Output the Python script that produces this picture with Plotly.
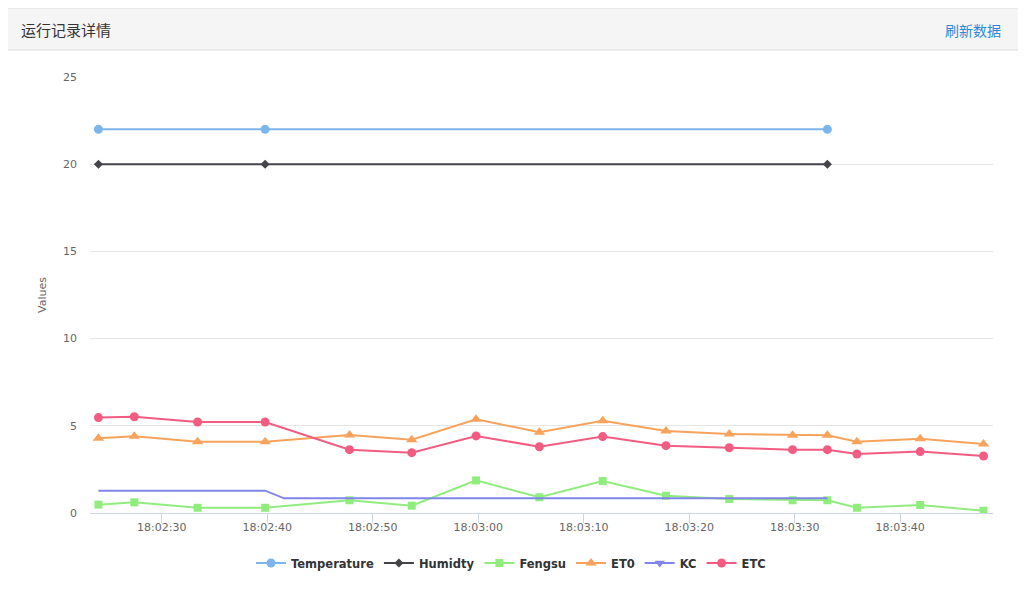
import plotly.graph_objects as go

day = "2019-05-20 "

times = ["18:02:24", "18:02:27.4", "18:02:33.4", "18:02:39.8", "18:02:47.8", "18:02:53.7",
         "18:02:59.8", "18:03:05.8", "18:03:11.8", "18:03:17.8", "18:03:23.8", "18:03:29.8",
         "18:03:33.1", "18:03:35.9", "18:03:41.9", "18:03:47.9"]

temp_times = ["18:02:24", "18:02:39.8", "18:03:33.1"]
temperature = [22, 22, 22]
humidity = [20, 20, 20]

fengsu = [0.48, 0.61, 0.30, 0.30, 0.73, 0.42, 1.87, 0.90, 1.83, 0.99, 0.80, 0.73, 0.73, 0.30, 0.46, 0.13]
et0 = [4.28, 4.40, 4.09, 4.09, 4.47, 4.20, 5.37, 4.63, 5.29, 4.70, 4.53, 4.46, 4.46, 4.09, 4.26, 3.96]
etc = [5.47, 5.52, 5.22, 5.22, 3.63, 3.46, 4.42, 3.80, 4.38, 3.86, 3.74, 3.63, 3.63, 3.38, 3.52, 3.27]

kc_times = ["18:02:24", "18:02:39.8", "18:02:41.6", "18:03:33.1"]
kc = [1.28, 1.28, 0.84, 0.84]

x_all = [day + t for t in times]
x_temp = [day + t for t in temp_times]
x_kc = [day + t for t in kc_times]

# page body has an 8px margin, so figure coords = screen coords - 8
OFF = 8
W, H = 1018, 594
L, R, T, B = 90 - OFF, 993 - OFF, 77 - OFF, 513 - OFF


def px(x):
    return (x - OFF - L) / (R - L)


def py(y):
    return (B - (y - OFF)) / (B - T)


fig = go.Figure()

fig.add_trace(go.Scatter(x=x_temp, y=temperature, name="Temperature", mode="lines+markers",
                         line=dict(color="#7cb5ec", width=2),
                         marker=dict(symbol="circle", size=9, color="#7cb5ec")))
fig.add_trace(go.Scatter(x=x_temp, y=humidity, name="Humidty", mode="lines+markers",
                         line=dict(color="#434348", width=2),
                         marker=dict(symbol="diamond", size=7, color="#434348")))
fig.add_trace(go.Scatter(x=x_all, y=fengsu, name="Fengsu", mode="lines+markers",
                         line=dict(color="#90ed7d", width=2),
                         marker=dict(symbol="square", size=8, color="#90ed7d")))
fig.add_trace(go.Scatter(x=x_all, y=et0, name="ET0", mode="lines+markers",
                         line=dict(color="#f7a35c", width=2),
                         marker=dict(symbol="triangle-up", size=10, color="#f7a35c")))
# KC: legend entry shows marker, plotted line has none
fig.add_trace(go.Scatter(x=[None], y=[None], name="KC", mode="lines+markers", legendgroup="kc",
                         line=dict(color="#8085e9", width=2),
                         marker=dict(symbol="triangle-down", size=9, color="#8085e9")))
fig.add_trace(go.Scatter(x=x_all, y=etc, name="ETC", mode="lines+markers",
                         line=dict(color="#f15c80", width=2),
                         marker=dict(symbol="circle", size=9, color="#f15c80")))
fig.add_trace(go.Scatter(x=x_kc, y=kc, name="KC", mode="lines", legendgroup="kc", showlegend=False,
                         line=dict(color="#8085e9", width=2)))

shapes = [
    # panel border
    dict(type="rect", xref="paper", yref="paper", x0=px(4), x1=px(1019), y0=py(640), y1=py(8),
         line=dict(color="#dddddd", width=1), fillcolor="rgba(0,0,0,0)", layer="below"),
    # header band
    dict(type="rect", xref="paper", yref="paper", x0=px(4), x1=px(1019), y0=py(50), y1=py(8),
         line=dict(color="#dddddd", width=1), fillcolor="#f5f5f5", layer="below"),
]

annotations = [
    dict(text="运行记录详情", xref="paper", yref="paper", x=px(19), y=py(30), xanchor="left",
         yanchor="middle", showarrow=False,
         font=dict(family="Noto Sans CJK SC", size=15, color="#333333")),
    dict(text="刷新数据", xref="paper", yref="paper", x=px(1003), y=py(30), xanchor="right",
         yanchor="middle", showarrow=False,
         font=dict(family="Noto Sans CJK SC", size=14, color="#2b8ad8")),
    dict(text="Values", xref="paper", yref="paper", x=px(42), y=py(295), textangle=-90,
         xanchor="center", yanchor="middle", showarrow=False,
         font=dict(family="DejaVu Sans", size=11, color="#666666")),
]

fig.update_layout(
    width=W, height=H,
    margin=dict(l=L, r=W - R, t=T, b=H - B, pad=0),
    paper_bgcolor="white", plot_bgcolor="white",
    font=dict(family="DejaVu Sans", size=11, color="#666666"),
    shapes=shapes, annotations=annotations,
    showlegend=True,
    legend=dict(orientation="h", x=px(511), xanchor="center", y=py(563), yanchor="middle",
                font=dict(family="DejaVu Sans", size=11.5, color="#333333", weight="bold"),
                itemwidth=30, tracegroupgap=0),
)

fig.update_xaxes(
    type="date",
    range=[day + "18:02:23.2", day + "18:03:48.8"],
    tickformat="%H:%M:%S", dtick=10000, tick0=day + "18:02:00",
    showgrid=False, showline=True, linecolor="#ccd6eb", linewidth=1,
    ticks="outside", ticklen=9, tickcolor="#ccd6eb", ticklabelstandoff=-5,
    tickfont=dict(family="DejaVu Sans", size=11, color="#666666"),
    zeroline=False,
)
fig.update_yaxes(
    range=[0, 25], dtick=5, showgrid=True, gridcolor="#e6e6e6", gridwidth=1,
    zeroline=False, showline=False, ticks="", ticklabelstandoff=12,
    tickfont=dict(family="DejaVu Sans", size=11, color="#666666"),
)

fig.write_html("out.html")
